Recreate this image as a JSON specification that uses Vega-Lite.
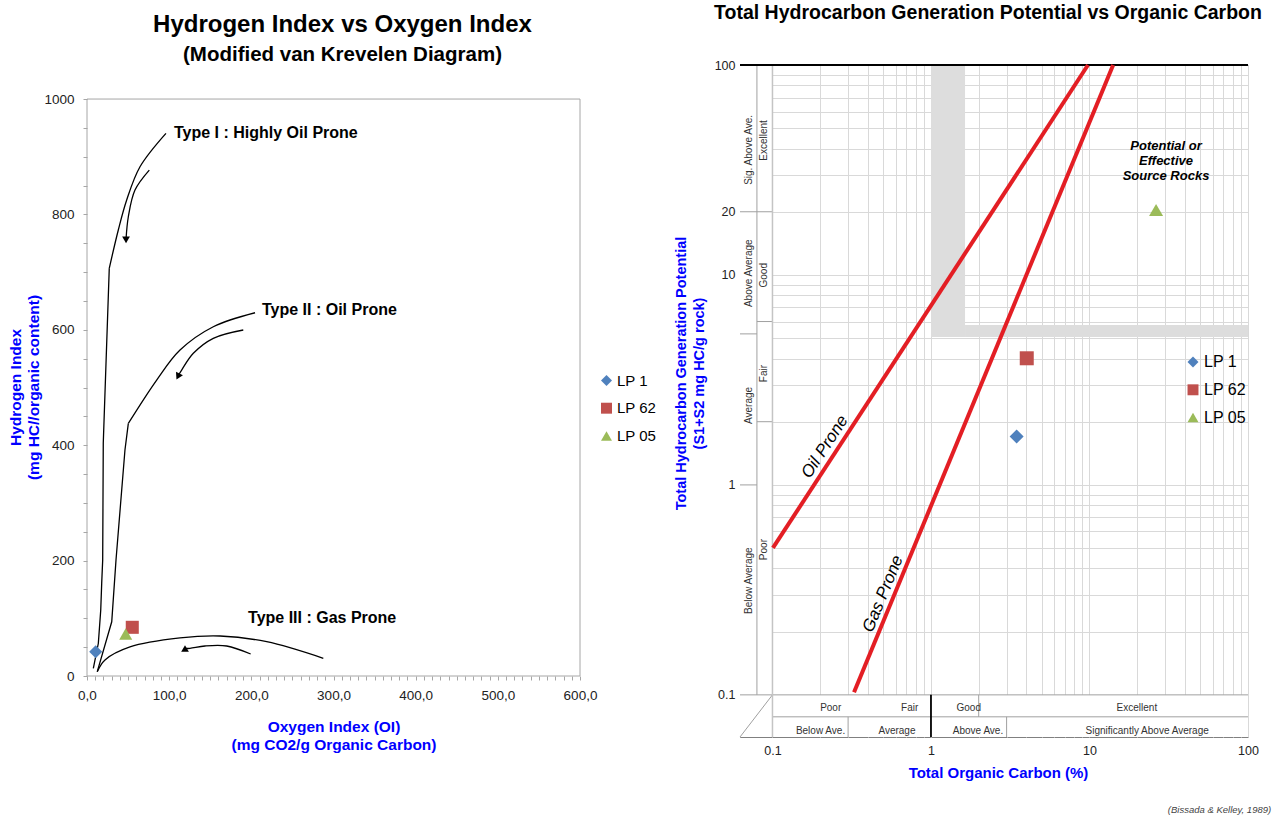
{
  "$schema": "https://vega.github.io/schema/vega-lite/v6.json",
  "background": "white",
  "padding": {"left": 8, "top": 2, "right": 0, "bottom": 0},
  "spacing": 15,
  "config": {
    "font": "Liberation Sans",
    "view": {"stroke": null},
    "axis": {"labelFont": "Liberation Sans", "titleFont": "Liberation Sans", "labelOverlap": false},
    "legend": {"labelFont": "Liberation Sans"},
    "title": {"font": "Liberation Sans", "subtitleFont": "Liberation Sans"}
  },
  "resolve": {"scale": {"color": "independent", "shape": "independent"}},
  "datasets": {
    "frame": [{"x": 0, "x2": 600, "y": 0, "y2": 1000}],
    "straight": [
      {"c": "I", "i": 0, "x": 7.7, "y": 13.3},
      {"c": "I", "i": 1, "x": 13.8, "y": 56.7},
      {"c": "I", "i": 2, "x": 16.7, "y": 114},
      {"c": "I", "i": 3, "x": 17.9, "y": 161},
      {"c": "I", "i": 4, "x": 19.1, "y": 201},
      {"c": "I", "i": 5, "x": 19.8, "y": 404},
      {"c": "I", "i": 6, "x": 27.1, "y": 706.6},
      {"c": "II", "i": 0, "x": 12.5, "y": 7.5},
      {"c": "II", "i": 1, "x": 30.1, "y": 94},
      {"c": "II", "i": 2, "x": 35.3, "y": 201},
      {"c": "II", "i": 3, "x": 46.2, "y": 391.7},
      {"c": "II", "i": 4, "x": 50.3, "y": 437.9}
    ],
    "curved": [
      {"c": "I", "i": 0, "x": 27.1, "y": 706.6},
      {"c": "I", "i": 1, "x": 38.1, "y": 773},
      {"c": "I", "i": 2, "x": 48.3, "y": 825},
      {"c": "I", "i": 3, "x": 64.5, "y": 882.7},
      {"c": "I", "i": 4, "x": 96.1, "y": 940.6},
      {"c": "II", "i": 0, "x": 50.3, "y": 437.9},
      {"c": "II", "i": 1, "x": 84.8, "y": 513},
      {"c": "II", "i": 2, "x": 113.2, "y": 565},
      {"c": "II", "i": 3, "x": 153.7, "y": 605.4},
      {"c": "II", "i": 4, "x": 204.5, "y": 629.6},
      {"c": "III", "i": 0, "x": 12.5, "y": 7.5},
      {"c": "III", "i": 1, "x": 21.9, "y": 27.7},
      {"c": "III", "i": 2, "x": 52.3, "y": 50.3},
      {"c": "III", "i": 3, "x": 113.2, "y": 65.9},
      {"c": "III", "i": 4, "x": 161.9, "y": 69.3},
      {"c": "III", "i": 5, "x": 218.7, "y": 59.4},
      {"c": "III", "i": 6, "x": 287.6, "y": 30.7},
      {"c": "aI", "i": 0, "x": 75.8, "y": 876.9},
      {"c": "aI", "i": 1, "x": 58.4, "y": 842.3},
      {"c": "aI", "i": 2, "x": 50.3, "y": 796},
      {"c": "aI", "i": 3, "x": 47.5, "y": 757},
      {"c": "aII", "i": 0, "x": 190.2, "y": 599.7},
      {"c": "aII", "i": 1, "x": 153.7, "y": 585.3},
      {"c": "aII", "i": 2, "x": 129.4, "y": 559.3},
      {"c": "aII", "i": 3, "x": 115.2, "y": 530.3},
      {"c": "aII", "i": 4, "x": 110.7, "y": 520},
      {"c": "aIII", "i": 0, "x": 199.2, "y": 38.1},
      {"c": "aIII", "i": 1, "x": 170, "y": 52},
      {"c": "aIII", "i": 2, "x": 143.6, "y": 52},
      {"c": "aIII", "i": 3, "x": 125.3, "y": 48},
      {"c": "aIII", "i": 4, "x": 119.3, "y": 47.7}
    ],
    "headI": [{"x": 47.5, "y": 756}],
    "headII": [{"x": 110.7, "y": 519}],
    "headIII": [{"x": 119.3, "y": 47.7}],
    "typeLabels": [
      {"t": "Type I : Highly Oil Prone", "x": 105.9, "y": 941},
      {"t": "Type II : Oil Prone", "x": 213, "y": 634},
      {"t": "Type III : Gas Prone", "x": 196, "y": 100.5}
    ],
    "samplesL": [
      {"sample": "LP 1", "x": 10.6, "y": 42.1},
      {"sample": "LP 62", "x": 55.1, "y": 84.4},
      {"sample": "LP 05", "x": 47.1, "y": 72.8}
    ],
    "covers": [
      {"x": 0.0624, "x2": 0.1, "y": 0.063, "y2": 100},
      {"x": 0.1, "x2": 100, "y": 0.063, "y2": 0.1}
    ],
    "bands": [
      {"x": 1, "x2": 1.64, "y": 5.07, "y2": 100},
      {"x": 1.64, "x2": 100, "y": 5.07, "y2": 5.78}
    ],
    "tlines": [
      {"x": 0.0798, "x2": 0.0798, "y": 0.1, "y2": 100},
      {"x": 0.0624, "x2": 0.1, "y": 20, "y2": 20},
      {"x": 0.0624, "x2": 0.0798, "y": 5.24, "y2": 5.24},
      {"x": 0.0624, "x2": 0.0798, "y": 1, "y2": 1},
      {"x": 0.0798, "x2": 0.1, "y": 6, "y2": 6},
      {"x": 0.0798, "x2": 0.1, "y": 2, "y2": 2},
      {"x": 0.0624, "x2": 100, "y": 0.1, "y2": 0.1},
      {"x": 0.1, "x2": 100, "y": 0.0786, "y2": 0.0786},
      {"x": 2, "x2": 2, "y": 0.0786, "y2": 0.1},
      {"x": 0.3, "x2": 0.3, "y": 0.063, "y2": 0.0786},
      {"x": 3, "x2": 3, "y": 0.063, "y2": 0.0786},
      {"x": 0.0624, "x2": 0.1, "y": 0.063, "y2": 0.1}
    ],
    "innerEdge": [{"x": 0.1, "x2": 0.1, "y": 0.063, "y2": 100}],
    "blines": [
      {"x": 1, "x2": 1, "y": 0.063, "y2": 0.1},
      {"x": 0.0624, "x2": 100, "y": 100, "y2": 100}
    ],
    "kerogen": [
      {"name": "Oil Prone", "x": 0.1007, "y": 0.501, "x2": 9.78, "y2": 100},
      {"name": "Gas Prone", "x": 0.327, "y": 0.103, "x2": 14.1, "y2": 100}
    ],
    "hlabels": [
      {"t": "Poor", "x": 0.233, "y": 0.0867},
      {"t": "Fair", "x": 0.734, "y": 0.0867},
      {"t": "Good", "x": 1.73, "y": 0.0867},
      {"t": "Excellent", "x": 19.9, "y": 0.0867},
      {"t": "Below Ave.", "x": 0.201, "y": 0.0674},
      {"t": "Average", "x": 0.61, "y": 0.0674},
      {"t": "Above Ave.", "x": 1.98, "y": 0.0674},
      {"t": "Significantly Above Average", "x": 23.1, "y": 0.0674}
    ],
    "vlabels": [
      {"t": "Sig. Above Ave.", "x": 0.0716, "y": 39.4},
      {"t": "Above Average", "x": 0.0716, "y": 10.19},
      {"t": "Average", "x": 0.0716, "y": 2.39},
      {"t": "Below Average", "x": 0.0716, "y": 0.35},
      {"t": "Excellent", "x": 0.0884, "y": 43.7},
      {"t": "Good", "x": 0.0884, "y": 9.97},
      {"t": "Fair", "x": 0.0884, "y": 3.39},
      {"t": "Poor", "x": 0.0884, "y": 0.492}
    ],
    "oilLabel": [{"t": "Oil Prone", "x": 0.2144, "y": 1.517}],
    "gasLabel": [{"t": "Gas Prone", "x": 0.498, "y": 0.3027}],
    "potential": [{"t": "Potential or\nEffective\nSource Rocks", "x": 30.4, "y": 41.1}],
    "caption": [{"t": "(Bissada & Kelley, 1989)", "x": 140, "y": 0.0283}],
    "samplesR": [
      {"sample": "LP 1", "x": 3.47, "y": 1.7},
      {"sample": "LP 62", "x": 4.02, "y": 4.01},
      {"sample": "LP 05", "x": 26.3, "y": 20.4}
    ]
  },
  "hconcat": [
    {
      "width": 493,
      "height": 611,
      "view": {"stroke": null},
      "title": {
        "text": "Hydrogen Index vs Oxygen Index",
        "subtitle": "(Modified van Krevelen Diagram)",
        "fontSize": 24,
        "subtitleFontSize": 20.5,
        "fontWeight": "bold",
        "subtitleFontWeight": "bold",
        "color": "#000000",
        "subtitleColor": "#000000",
        "anchor": "middle",
        "dx": 9,
        "offset": 0,
        "subtitlePadding": 8
      },
      "layer": [
        {
          "data": {"name": "frame"},
          "mark": {"type": "rect", "fillOpacity": 0, "stroke": "#A6A6A6", "strokeWidth": 1},
          "encoding": {
            "x": {
              "field": "x", "type": "quantitative",
              "scale": {"domain": [0, 600], "nice": false, "zero": false},
              "axis": {
                "values": [0,10,20,30,40,50,60,70,80,90,100,110,120,130,140,150,160,170,180,190,200,210,220,230,240,250,260,270,280,290,300,310,320,330,340,350,360,370,380,390,400,410,420,430,440,450,460,470,480,490,500,510,520,530,540,550,560,570,580,590,600],
                "tickCount": 200,
                "labelExpr": "datum.value % 100 === 0 ? replace(format(datum.value, '.1f'), '.', ',') : ''",
                "grid": false, "domain": false, "ticks": true, "tickSize": 4, "tickColor": "#A6A6A6",
                "labelFontSize": 13.5, "labelColor": "#222222", "labelPadding": 8, "labelFlush": false, "labelOverlap": false,
                "title": ["Oxygen Index (OI)", "(mg CO2/g Organic Carbon)"],
                "titleFontSize": 15.5, "titleFontWeight": "bold", "titleColor": "#0000FF", "titleLineHeight": 18, "titlePadding": 18
              }
            },
            "x2": {"field": "x2"},
            "y": {
              "field": "y", "type": "quantitative",
              "scale": {"domain": [0, 1059], "nice": false, "zero": false},
              "axis": {
                "values": [0,50,100,150,200,250,300,350,400,450,500,550,600,650,700,750,800,850,900,950,1000],
                "tickCount": 200,
                "labelExpr": "datum.value % 200 === 0 ? datum.label : ''",
                "format": "d",
                "grid": false, "domain": false, "tickSize": 4, "tickColor": "#A6A6A6",
                "labelFontSize": 13.5, "labelColor": "#222222", "labelPadding": 9, "labelFlush": false, "labelOverlap": false,
                "title": ["Hydrogen Index", "(mg HC//organic content)"],
                "titleFontSize": 15.5, "titleFontWeight": "bold", "titleColor": "#0000FF", "titleLineHeight": 18, "titlePadding": 2,
                "titleY": 322
              }
            },
            "y2": {"field": "y2"}
          }
        },
        {
          "data": {"name": "straight"},
          "mark": {"type": "line", "color": "#000000", "strokeWidth": 1.3},
          "encoding": {
            "x": {"field": "x", "type": "quantitative"},
            "y": {"field": "y", "type": "quantitative"},
            "detail": {"field": "c"},
            "order": {"field": "i"}
          }
        },
        {
          "data": {"name": "curved"},
          "mark": {"type": "line", "color": "#000000", "strokeWidth": 1.3, "interpolate": "catmull-rom"},
          "encoding": {
            "x": {"field": "x", "type": "quantitative"},
            "y": {"field": "y", "type": "quantitative"},
            "detail": {"field": "c"},
            "order": {"field": "i"}
          }
        },
        {
          "data": {"name": "headI"},
          "mark": {"type": "point", "shape": "triangle-down", "filled": true, "color": "#000000", "size": 60, "opacity": 1},
          "encoding": {"x": {"field": "x", "type": "quantitative"}, "y": {"field": "y", "type": "quantitative"}}
        },
        {
          "data": {"name": "headII"},
          "mark": {"type": "point", "shape": "triangle-down", "angle": 27, "filled": true, "color": "#000000", "size": 60, "opacity": 1},
          "encoding": {"x": {"field": "x", "type": "quantitative"}, "y": {"field": "y", "type": "quantitative"}}
        },
        {
          "data": {"name": "headIII"},
          "mark": {"type": "point", "shape": "triangle-up", "filled": true, "color": "#000000", "size": 60, "opacity": 1},
          "encoding": {"x": {"field": "x", "type": "quantitative"}, "y": {"field": "y", "type": "quantitative"}}
        },
        {
          "data": {"name": "typeLabels"},
          "mark": {"type": "text", "align": "left", "baseline": "middle", "fontSize": 16, "fontWeight": "bold", "color": "#000000", "font": "Liberation Sans"},
          "encoding": {
            "x": {"field": "x", "type": "quantitative"},
            "y": {"field": "y", "type": "quantitative"},
            "text": {"field": "t"}
          }
        },
        {
          "data": {"name": "samplesL"},
          "mark": {"type": "point", "filled": true, "size": 170, "opacity": 1},
          "encoding": {
            "x": {"field": "x", "type": "quantitative"},
            "y": {"field": "y", "type": "quantitative"},
            "color": {
              "field": "sample", "type": "nominal",
              "scale": {"domain": ["LP 1", "LP 62", "LP 05"], "range": ["#4F81BD", "#C0504D", "#9BBB59"]},
              "legend": {"orient": "none", "legendX": 512, "legendY": 308, "title": null, "labelFontSize": 15, "labelColor": "#000000", "symbolSize": 120, "rowPadding": 11.7, "labelOffset": 3, "symbolStrokeWidth": 0, "padding": 0}
            },
            "shape": {
              "field": "sample", "type": "nominal",
              "scale": {"domain": ["LP 1", "LP 62", "LP 05"], "range": ["diamond", "square", "triangle-up"]},
              "legend": {"orient": "none", "legendX": 512, "legendY": 308, "title": null, "labelFontSize": 15, "labelColor": "#000000", "symbolSize": 120, "rowPadding": 11.7, "labelOffset": 3, "symbolStrokeWidth": 0, "padding": 0}
            }
          }
        }
      ]
    },
    {
      "width": 508,
      "height": 672,
      "view": {"stroke": "#808080"},
      "title": {
        "text": "Total Hydrocarbon Generation Potential vs Organic Carbon",
        "fontSize": 19.5,
        "fontWeight": "bold",
        "color": "#000000",
        "anchor": "middle",
        "dx": -6,
        "offset": 36
      },
      "layer": [
        {
          "data": {"name": "covers"},
          "mark": {"type": "rect", "color": "#FFFFFF"},
          "encoding": {
            "x": {
              "field": "x", "type": "quantitative",
              "scale": {"type": "log", "domain": [0.0624, 100], "nice": false},
              "axis": {
                "values": [0.1,0.2,0.3,0.4,0.5,0.6,0.7,0.8,0.9,1,2,3,4,5,6,7,8,9,10,20,30,40,50,60,70,80,90,100],
                "tickCount": 200,
                "format": "~g",
                "labelExpr": "(datum.value === 0.1 || datum.value === 1 || datum.value === 10 || datum.value === 100) ? datum.label : ''",
                "grid": true, "gridColor": "#D9D9D9", "gridWidth": 1,
                "domain": false, "ticks": false, "tickSize": 0,
                "labelFontSize": 12.5, "labelColor": "#222222", "labelPadding": 7, "labelFlush": false, "labelOverlap": false,
                "title": "Total Organic Carbon (%)",
                "titleFontSize": 15, "titleFontWeight": "bold", "titleColor": "#0000FF", "titlePadding": 9, "titleX": 258
              }
            },
            "x2": {"field": "x2"},
            "y": {
              "field": "y", "type": "quantitative",
              "scale": {"type": "log", "domain": [0.063, 100], "nice": false},
              "axis": {
                "values": [0.1,0.2,0.3,0.4,0.5,0.6,0.7,0.8,0.9,1,2,3,4,5,6,7,8,9,10,20,30,40,50,60,70,80,90,100],
                "tickCount": 200,
                "format": "~g",
                "labelExpr": "(datum.value === 0.1 || datum.value === 1 || datum.value === 10 || datum.value === 20 || datum.value === 100) ? datum.label : ''",
                "grid": true, "gridColor": "#D9D9D9", "gridWidth": 1,
                "domain": false, "ticks": false, "tickSize": 0,
                "labelFontSize": 12.5, "labelColor": "#222222", "labelPadding": 5, "labelFlush": false, "labelOverlap": false,
                "title": ["Total Hydrocarbon Generation Potential", "(S1+S2 mg HC/g rock)"],
                "titleFontSize": 14.5, "titleFontWeight": "bold", "titleColor": "#0000FF", "titleLineHeight": 18, "titlePadding": 8,
                "titleY": 308
              }
            },
            "y2": {"field": "y2"}
          }
        },
        {
          "data": {"name": "bands"},
          "mark": {"type": "rect", "color": "#DDDDDD"},
          "encoding": {
            "x": {"field": "x", "type": "quantitative"},
            "x2": {"field": "x2"},
            "y": {"field": "y", "type": "quantitative"},
            "y2": {"field": "y2"}
          }
        },
        {
          "data": {"name": "tlines"},
          "mark": {"type": "rule", "color": "#A0A0A0", "strokeWidth": 1},
          "encoding": {
            "x": {"field": "x", "type": "quantitative"},
            "x2": {"field": "x2"},
            "y": {"field": "y", "type": "quantitative"},
            "y2": {"field": "y2"}
          }
        },
        {
          "data": {"name": "innerEdge"},
          "mark": {"type": "rule", "color": "#C4C4C4", "strokeWidth": 1.5},
          "encoding": {
            "x": {"field": "x", "type": "quantitative"},
            "x2": {"field": "x2"},
            "y": {"field": "y", "type": "quantitative"},
            "y2": {"field": "y2"}
          }
        },
        {
          "data": {"name": "blines"},
          "mark": {"type": "rule", "color": "#000000", "strokeWidth": 1.8},
          "encoding": {
            "x": {"field": "x", "type": "quantitative"},
            "x2": {"field": "x2"},
            "y": {"field": "y", "type": "quantitative"},
            "y2": {"field": "y2"}
          }
        },
        {
          "data": {"name": "kerogen"},
          "mark": {"type": "rule", "color": "#E31E24", "strokeWidth": 4},
          "encoding": {
            "x": {"field": "x", "type": "quantitative"},
            "x2": {"field": "x2"},
            "y": {"field": "y", "type": "quantitative"},
            "y2": {"field": "y2"}
          }
        },
        {
          "data": {"name": "hlabels"},
          "mark": {"type": "text", "align": "center", "baseline": "middle", "fontSize": 10, "color": "#333333", "font": "Liberation Sans"},
          "encoding": {
            "x": {"field": "x", "type": "quantitative"},
            "y": {"field": "y", "type": "quantitative"},
            "text": {"field": "t"}
          }
        },
        {
          "data": {"name": "vlabels"},
          "mark": {"type": "text", "align": "center", "baseline": "middle", "angle": 270, "fontSize": 10, "color": "#333333", "font": "Liberation Sans"},
          "encoding": {
            "x": {"field": "x", "type": "quantitative"},
            "y": {"field": "y", "type": "quantitative"},
            "text": {"field": "t"}
          }
        },
        {
          "data": {"name": "oilLabel"},
          "mark": {"type": "text", "align": "center", "baseline": "middle", "angle": 303, "fontSize": 17, "fontStyle": "italic", "color": "#000000", "font": "Liberation Sans"},
          "encoding": {
            "x": {"field": "x", "type": "quantitative"},
            "y": {"field": "y", "type": "quantitative"},
            "text": {"field": "t"}
          }
        },
        {
          "data": {"name": "gasLabel"},
          "mark": {"type": "text", "align": "center", "baseline": "middle", "angle": 292.4, "fontSize": 17, "fontStyle": "italic", "color": "#000000", "font": "Liberation Sans"},
          "encoding": {
            "x": {"field": "x", "type": "quantitative"},
            "y": {"field": "y", "type": "quantitative"},
            "text": {"field": "t"}
          }
        },
        {
          "data": {"name": "potential"},
          "mark": {"type": "text", "align": "center", "baseline": "middle", "lineBreak": "\n", "lineHeight": 15, "fontSize": 13, "fontStyle": "italic", "fontWeight": "bold", "color": "#000000", "font": "Liberation Sans"},
          "encoding": {
            "x": {"field": "x", "type": "quantitative"},
            "y": {"field": "y", "type": "quantitative"},
            "text": {"field": "t"}
          }
        },
        {
          "data": {"name": "caption"},
          "mark": {"type": "text", "align": "right", "baseline": "middle", "fontSize": 9.5, "fontStyle": "italic", "color": "#444444", "font": "Liberation Sans"},
          "encoding": {
            "x": {"field": "x", "type": "quantitative"},
            "y": {"field": "y", "type": "quantitative"},
            "text": {"field": "t"}
          }
        },
        {
          "data": {"name": "samplesR"},
          "mark": {"type": "point", "filled": true, "size": 196, "opacity": 1},
          "encoding": {
            "x": {"field": "x", "type": "quantitative"},
            "y": {"field": "y", "type": "quantitative"},
            "color": {
              "field": "sample", "type": "nominal",
              "scale": {"domain": ["LP 1", "LP 62", "LP 05"], "range": ["#4F81BD", "#C0504D", "#9BBB59"]},
              "legend": {"orient": "none", "legendX": 445, "legendY": 289, "title": null, "labelFontSize": 16, "labelColor": "#000000", "symbolSize": 120, "rowPadding": 11.8, "labelOffset": 3, "symbolStrokeWidth": 0, "padding": 0}
            },
            "shape": {
              "field": "sample", "type": "nominal",
              "scale": {"domain": ["LP 1", "LP 62", "LP 05"], "range": ["diamond", "square", "triangle-up"]},
              "legend": {"orient": "none", "legendX": 445, "legendY": 289, "title": null, "labelFontSize": 16, "labelColor": "#000000", "symbolSize": 120, "rowPadding": 11.8, "labelOffset": 3, "symbolStrokeWidth": 0, "padding": 0}
            }
          }
        }
      ]
    }
  ]
}
